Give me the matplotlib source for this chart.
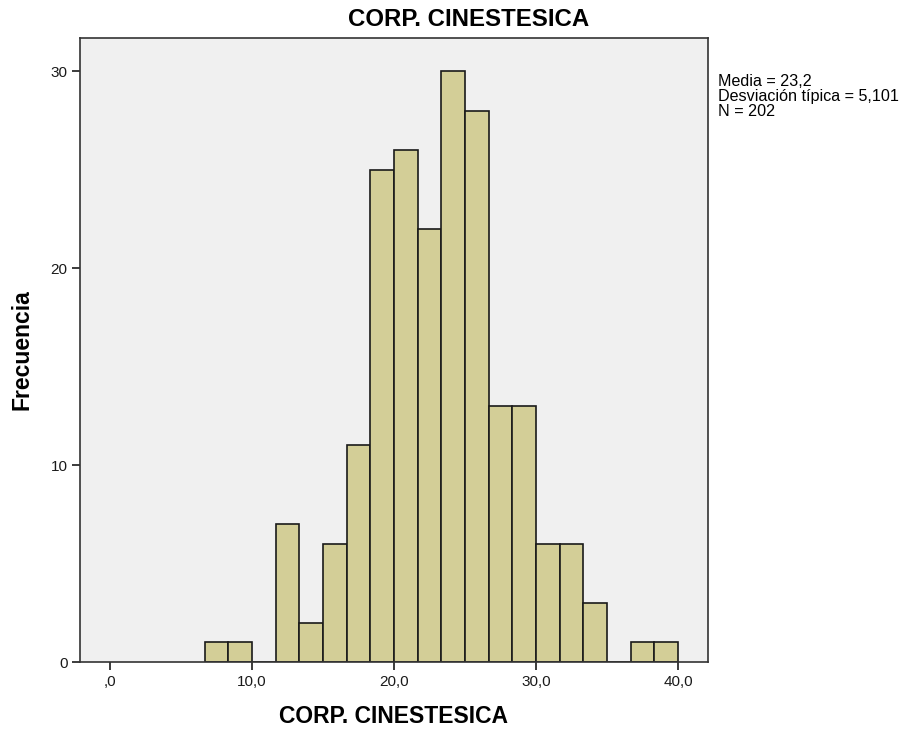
import numpy as np
import matplotlib.pyplot as plt

# Histogram of CORP. CINESTESICA (SPSS style), bin width 5/3
bin_start = 20 / 3
bin_width = 5 / 3
counts = [1, 1, 0, 7, 2, 6, 11, 25, 26, 22, 30, 28, 13, 13, 6, 6, 3, 0, 1, 1]
x_ticks = [0, 10, 20, 30, 40]
x_tick_labels = [",0", "10,0", "20,0", "30,0", "40,0"]
y_ticks = [0, 10, 20, 30]
stats_text = "Media = 23,2\nDesviación típica = 5,101\nN = 202"

FONT = "Liberation Sans"
edges = bin_start + bin_width * np.arange(len(counts))

fig = plt.figure(figsize=(9.03, 7.32), dpi=100)
ax = fig.add_axes([80 / 903, 70 / 732, 628 / 903, 624 / 732])
ax.set_facecolor("#F0F0F0")

ax.bar(edges, counts, width=bin_width, align="edge",
       color="#D3CE97", edgecolor="#1a1a1a", linewidth=1.2)

ax.set_xlim(-2.11, 42.1)
ax.set_ylim(0, 31.7)
ax.set_xticks(x_ticks)
ax.set_xticklabels(x_tick_labels)
ax.set_yticks(y_ticks)
ax.tick_params(direction="out", length=6, width=1.2, labelsize=11,
               colors="#1a1a1a", pad=3)
for lab in ax.get_xticklabels() + ax.get_yticklabels():
    lab.set_family(FONT)
for s in ax.spines.values():
    s.set_color("#333333")
    s.set_linewidth(1.2)

# title sits centred over the whole chart area (plot + stats box)
fig.text(469 / 903, 1 - 20 / 732, "CORP. CINESTESICA", fontsize=17.3,
         fontweight="bold", ha="center", va="center", family=FONT)
ax.set_xlabel("CORP. CINESTESICA", fontsize=16.5, fontweight="bold",
              labelpad=12, family=FONT)
ax.set_ylabel("Frecuencia", fontsize=16.5, fontweight="bold",
              labelpad=12, family=FONT)

fig.text(718 / 903, 1 - 74 / 732, stats_text, fontsize=11.6,
         va="top", ha="left", linespacing=1.0, family=FONT)

fig.savefig("out.png", dpi=100)
